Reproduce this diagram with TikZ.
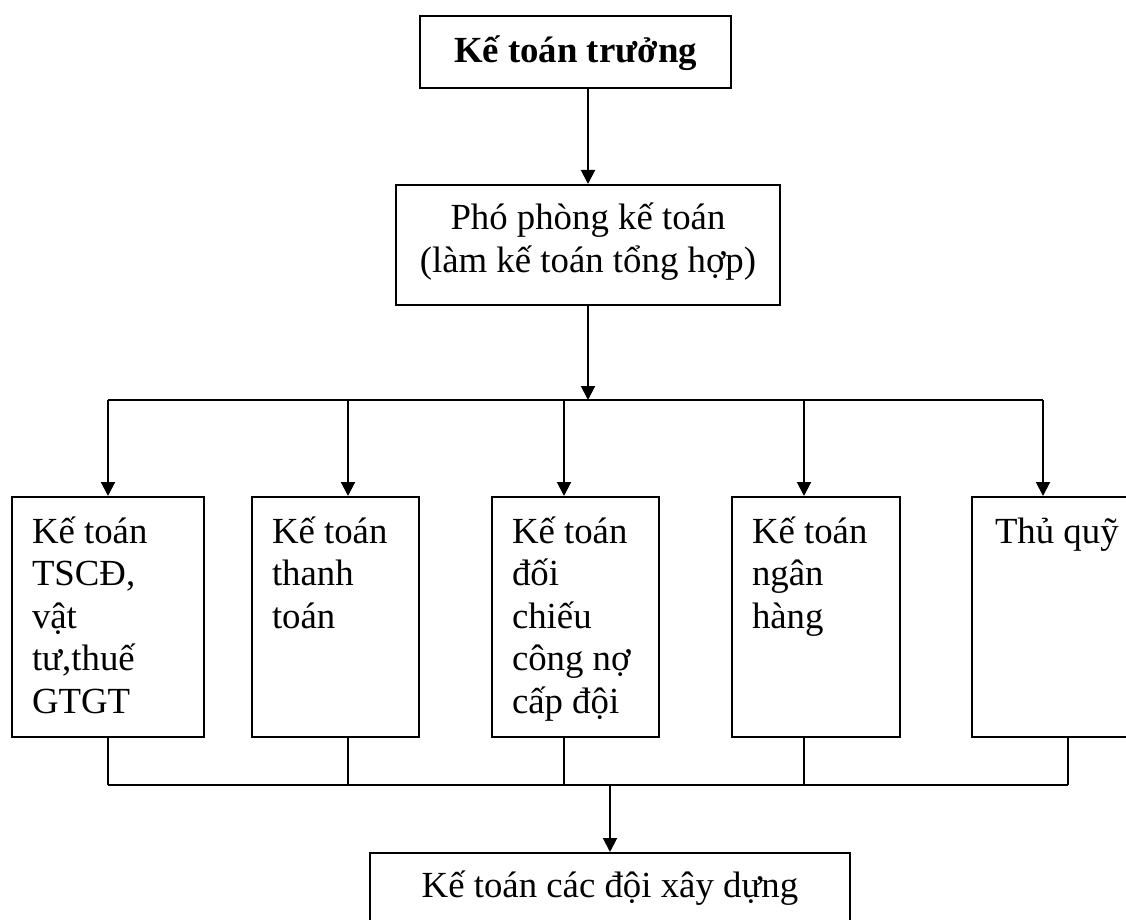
\documentclass[tikz,border=0pt]{standalone}
\usepackage{fontspec}
\setmainfont{Liberation Serif}
\usetikzlibrary{arrows.meta}
\tikzset{box/.style={draw,line width=1pt,inner sep=0pt},
         link/.style={line width=1pt},
         >={Triangle[length=7pt,width=7pt]}}
\newcommand{\firstgap}[1]{\rule{0pt}{#1}}

\begin{document}
\begin{tikzpicture}[x=0.5pt,y=-0.5pt,font=\fontsize{18.4pt}{21.25pt}\selectfont]
              \useasboundingbox (0,0) rectangle (1126,920);
              \fill[white] (0,0) rectangle (1126,920);
              \clip (0,0) rectangle (1126,920);

              \node[box] (truong) at (575.5,52) {\parbox[c][36pt][t]{155.5pt}{\centering\bfseries\firstgap{23.5pt}Kế toán trưởng}};
              \node[box] (pho) at (588,245) {\parbox[c][60pt][t]{192pt}{\centering\firstgap{22.5pt}Phó phòng kế toán\\(làm kế toán tổng hợp)}};

              \node[box] (tscd) at (108,617) {\parbox[c][120pt][t]{96pt}{\leftskip=10pt\firstgap{23pt}Kế toán\\TSCĐ,\\vật\\tư,thuế\\GTGT}};
              \node[box] (thanhtoan) at (335.5,617) {\parbox[c][120pt][t]{83.5pt}{\leftskip=10pt\firstgap{23pt}Kế toán\\thanh\\toán}};
              \node[box] (congno) at (575.5,617) {\parbox[c][120pt][t]{83.5pt}{\leftskip=10pt\firstgap{23pt}Kế toán\\đối\\chiếu\\công nợ\\cấp đội}};
              \node[box] (nganhang) at (816,617) {\parbox[c][120pt][t]{84pt}{\leftskip=10pt\firstgap{23pt}Kế toán\\ngân\\hàng}};
              \node[box] (thuquy) at (1056,617) {\parbox[c][120pt][t]{84pt}{\leftskip=11.5pt\firstgap{23pt}Thủ quỹ}};

              \node[box] (doi) at (610,890.5) {\parbox[c][37.5pt][t]{240pt}{\centering\firstgap{22pt}Kế toán các đội xây dựng}};

              % lines to the five parts
              \coordinate (top1) at (108,400);
              \coordinate (top2) at (348,400);
              \coordinate (top3) at (564,400);
              \coordinate (top4) at (804,400);
              \coordinate (top5) at (1043,400);

              % lines from the five parts
              \coordinate (bot1) at (108,785);
              \coordinate (bot2) at (348,785);
              \coordinate (bot3) at (564,785);
              \coordinate (bot4) at (804,785);
              \coordinate (bot5) at (1068,785);

              \path[link,->]
              (truong.south -| pho.north) edge (pho.north)
              (pho.south) edge (pho.south |- top1)
              (top1) edge (tscd.north)
              (top2) edge (top2 |- thanhtoan.north)
              (top3) edge (top3 |- congno.north)
              (top4) edge (top4 |- nganhang.north)
              (top5) edge (top5 |- thuquy.north)
              (doi.north |- bot1) edge (doi.north)
              ;

              \draw[link] (top1) -- (top5);
              \draw[link] (bot1) -- (bot5);
              \draw[link] (tscd.south) -- (bot1);
              \draw[link] (bot2 |- thanhtoan.south) -- (bot2);
              \draw[link] (bot3 |- congno.south) -- (bot3);
              \draw[link] (bot4 |- nganhang.south) -- (bot4);
              \draw[link] (bot5 |- thuquy.south) -- (bot5);
            \end{tikzpicture}
\end{document}
